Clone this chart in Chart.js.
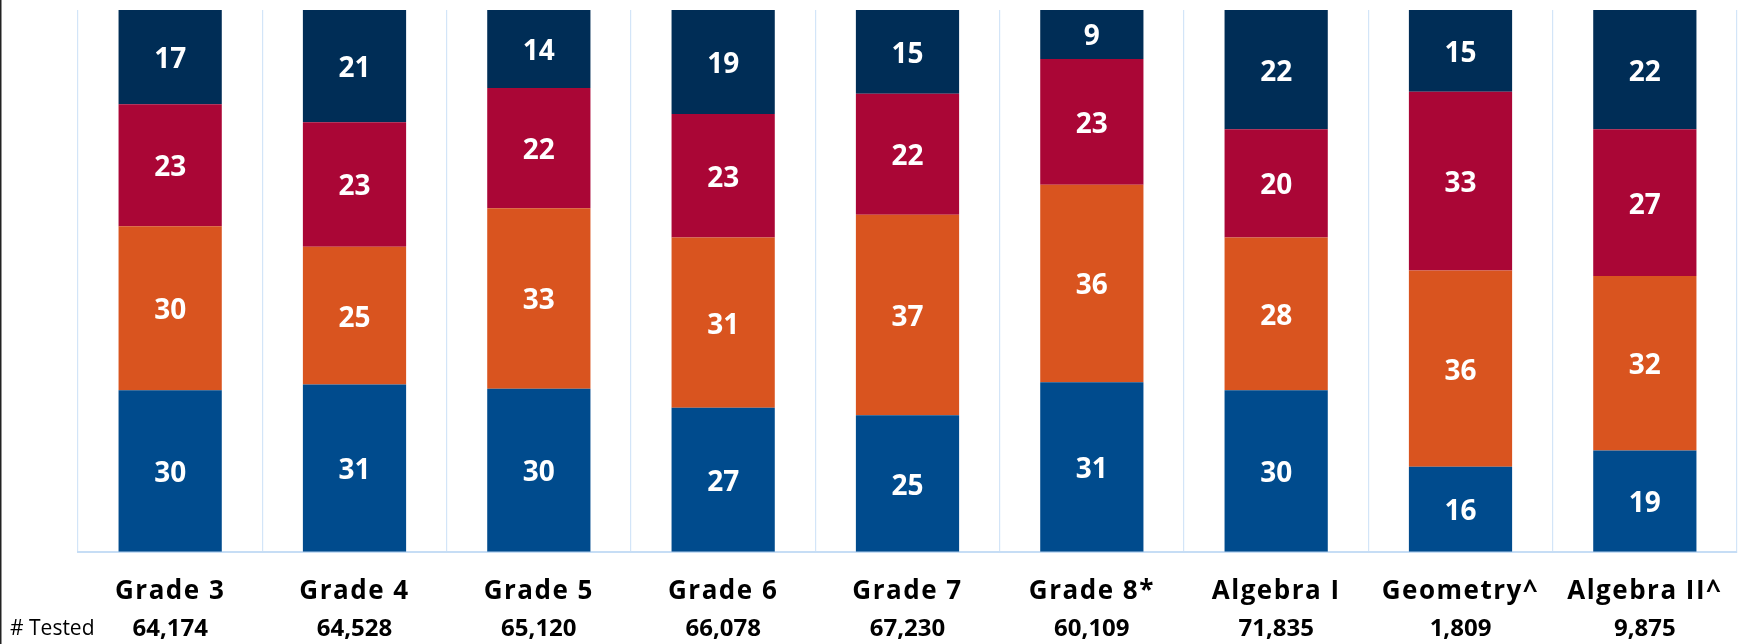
<!DOCTYPE html>
<html>
<head>
<meta charset="utf-8">
<script src="https://cdn.jsdelivr.net/npm/chart.js@4/dist/chart.umd.min.js"></script>
<style>
  html, body { margin: 0; padding: 0; background: #fff; }
  #wrap { width: 1741px; height: 644px; position: relative; }
</style>
</head>
<body>
<div id="wrap"><canvas id="chart"></canvas></div>
<script>
// Data (percent of students in each level, bottom to top)
const categories = ['Grade 3', 'Grade 4', 'Grade 5', 'Grade 6', 'Grade 7', 'Grade 8*', 'Algebra I', 'Geometry^', 'Algebra II^'];
const testedCounts = ['64,174', '64,528', '65,120', '66,078', '67,230', '60,109', '71,835', '1,809', '9,875'];

const level1 = [29.8, 30.9, 30.1, 26.6, 25.2, 31.3, 29.8, 15.7, 18.7];
const level2 = [30.3, 25.4, 33.3, 31.4, 37.0, 36.45, 28.2, 36.2, 32.2];
const level3 = [22.5, 23.0, 22.2, 22.8, 22.35, 23.2, 20.0, 33.0, 27.1];
const level4 = [17.4, 20.7, 14.4, 19.2, 15.45, 9.05, 22.0, 15.1, 22.0];

const seriesNames = ['Level 1', 'Level 2', 'Level 3', 'Level 4'];
const seriesColors = ['#004B8D', '#D9541F', '#AA0636', '#002D56'];

const FONT = '"Open Sans", "Liberation Sans", sans-serif';

// White value labels in the middle of every segment
const segmentLabels = {
    id: 'segmentLabels',
    afterDatasetsDraw(chart) {
        const ctx = chart.ctx;
        ctx.save();
        ctx.letterSpacing = '0px';
        ctx.font = 'bold 28px ' + FONT;
        ctx.fillStyle = '#ffffff';
        ctx.textAlign = 'center';
        ctx.textBaseline = 'middle';
        chart.data.datasets.forEach((ds, i) => {
            chart.getDatasetMeta(i).data.forEach((bar, j) => {
                const p = bar.getCenterPoint();
                ctx.fillText(String(Math.round(ds.data[j])), p.x, p.y + 3);
            });
        });
        ctx.restore();
    }
};

// Letter spacing only for the category names (drawn before the datasets)
const spacing = {
    id: 'spacing',
    beforeDraw(chart) {
        chart.ctx.letterSpacing = '1.5px';
    },
    beforeDatasetsDraw(chart) {
        chart.ctx.letterSpacing = '0px';
    }
};

// "# Tested" row under the category names, plus the dark left edge
const testedRow = {
    id: 'testedRow',
    afterDraw(chart) {
        const ctx = chart.ctx;
        const x = chart.scales.x;
        const rowY = x.top + 77;
        ctx.save();
        ctx.letterSpacing = '0px';
        ctx.fillStyle = '#222';
        ctx.fillRect(0, 0, 1.5, chart.height);
        ctx.fillStyle = '#000';
        ctx.textBaseline = 'middle';
        ctx.textAlign = 'left';
        ctx.font = '21px ' + FONT;
        ctx.fillText('# Tested', 10, rowY);
        ctx.textAlign = 'center';
        ctx.font = 'bold 24px ' + FONT;
        testedCounts.forEach((t, i) => {
            ctx.fillText(t, x.getPixelForValue(i), rowY);
        });
        ctx.restore();
    }
};

const datasets = [level1, level2, level3, level4].map((values, i) => ({
    label: seriesNames[i],
    data: values,
    backgroundColor: seriesColors[i],
    borderWidth: 0,
    barPercentage: 0.56,
    categoryPercentage: 1.0
}));

new Chart(document.getElementById('chart'), {
    type: 'bar',
    data: { labels: categories, datasets },
    options: {
        responsive: true,
        maintainAspectRatio: false,
        animation: false,
        layout: { padding: { left: 78, right: 4, top: 10, bottom: 13 } },
        plugins: {
            legend: { display: false },
            tooltip: { enabled: false }
        },
        scales: {
            x: {
                stacked: true,
                offset: true,
                grid: { color: '#D3E5F8', lineWidth: 1.2, drawTicks: false, offset: true },
                border: { display: true, color: '#C6DDF5', width: 2 },
                ticks: {
                    color: '#000',
                    font: { family: FONT, size: 26, weight: 'bold' },
                    padding: 24,
                    maxRotation: 0,
                    autoSkip: false
                }
            },
            y: {
                stacked: true,
                display: false,
                min: 0,
                max: 100
            }
        }
    },
    plugins: [spacing, segmentLabels, testedRow]
});
</script>
</body>
</html>
